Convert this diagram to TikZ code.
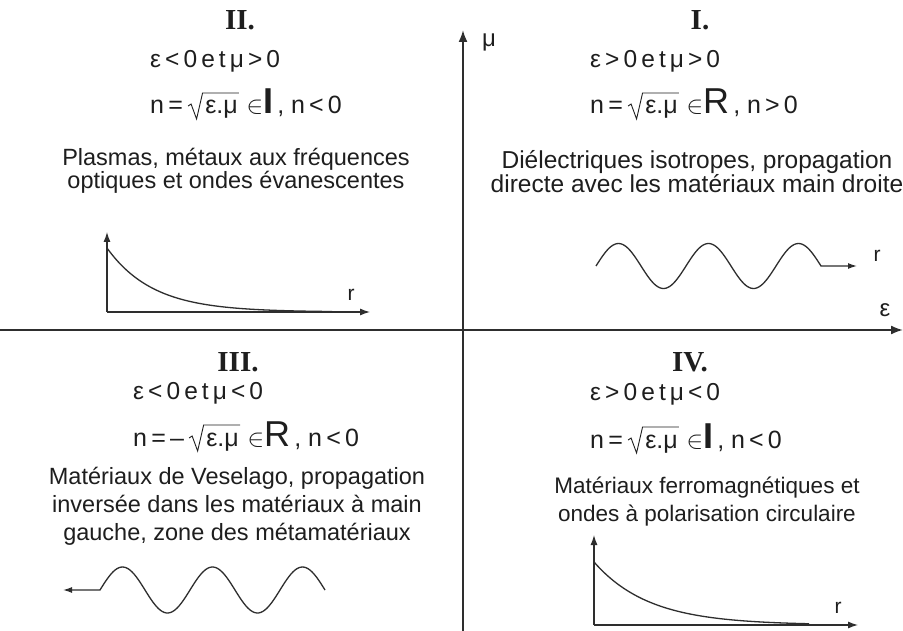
\documentclass[tikz,border=0pt]{standalone}
\usepackage{fontspec}
\setmainfont{Liberation Sans}
\newfontfamily\romfont{Liberation Serif}
\usetikzlibrary{arrows.meta}
\definecolor{ink}{HTML}{1E1E1E}
\definecolor{lin}{HTML}{2E2E2E}
\newcommand\bigI{{\fontsize{36}{36}\selectfont\bfseries I}}
\newcommand\bigR{{\fontsize{36}{36}\selectfont R}}
\newcommand\drawroot[1]{%
  \draw[rootline] ([shift={(-17,-8)}]#1.base west) -- ([shift={(-14,-10)}]#1.base west)
    -- ([shift={(-8.5,5)}]#1.base west) -- ([shift={(-2.5,-21)}]#1.base west)
    -- ([shift={(1,-21)}]#1.base east);}
\begin{document}
\begin{tikzpicture}[x=1pt,y=-1pt,
  title/.style={font=\romfont\bfseries\fontsize{29}{29}\selectfont, text=ink},
  formula/.style={anchor=west, inner sep=0pt, font=\fontsize{24.5}{26}\selectfont, text=ink},
  nline/.style={anchor=base west, inner sep=0pt, font=\fontsize{25}{25}\selectfont, text=ink},
  rootline/.style={line width=0.9pt, draw=ink, line join=miter},
  desc/.style={align=center, inner sep=0pt, text=ink},
  lbl/.style={inner sep=0pt, text=ink, font=\fontsize{24}{24}\selectfont},
  axisline/.style={line width=1.9pt, draw=lin, -{Latex[length=12pt,width=9pt]}},
  miniaxis/.style={line width=1.2pt, draw=lin, -{Latex[length=10pt,width=7pt]}},
  curve/.style={line width=1.3pt, draw=lin},
  wave/.style={line width=1.3pt, draw=lin, -{Latex[length=9pt,width=6pt]}}]
\useasboundingbox (0,0) rectangle (903,631);
\fill[white] (0,0) rectangle (903,631);

% main axes
\coordinate (hL) at (0,330);
\coordinate (hR) at (903,330);
\coordinate (vB) at (463,631);
\coordinate (vT) at (463,30);
\draw[axisline] (hL) -- (hR);
\draw[axisline] (vB) -- (vT);
\node[lbl] (mu) at (489,42) {μ};
\node[lbl] (eps) at (885,310) {ε};

% Quadrant II
\node[title] (t2) at (240,20) {II.};
\node[formula] (f2a) at (150,61) {ε\,<\,0\,e\,t\,μ\,>\,0};
\node[nline] (n2a) at (150,114) {n\,=};
\node[nline, xshift=22pt] (n2r) at (n2a.base east) {ε.μ};
\node[nline] (n2c) at (n2r.base east) {\,\,$\in$\bigI\,, n\,<\,0};
\drawroot{n2r}
\node[desc, font=\fontsize{23.5}{23}\selectfont] (d2) at (236,171) {Plasmas, métaux aux fréquences\\optiques et ondes évanescentes};
\coordinate (o2) at (107,312);
\coordinate (y2) at (107,232);
\coordinate (x2) at (370,312);
\draw[miniaxis] (o2) -- (y2);
\draw[miniaxis] (o2) -- (x2);
\draw[curve] plot[domain=0:225, samples=80] ({107+\x},{312-64*exp(-\x/46)});
\node[lbl, font=\fontsize{21}{21}\selectfont] (r2) at (351,295) {r};

% Quadrant I
\node[title] (t1) at (700,20) {I.};
\node[formula] (f1a) at (590,61) {ε\,>\,0\,e\,t\,μ\,>\,0};
\node[nline] (n1a) at (590,114) {n\,=};
\node[nline, xshift=22pt] (n1r) at (n1a.base east) {ε.μ};
\node[nline] (n1c) at (n1r.base east) {\,\,$\in$\bigR\,, n\,>\,0};
\drawroot{n1r}
\node[desc, font=\fontsize{24.5}{23}\selectfont] (d1) at (697,172) {Diélectriques isotropes, propagation\\directe avec les matériaux main droite};
\coordinate (w1end) at (857,266);
\draw[wave] plot[domain=0:225, samples=120] ({596+\x},{266-22.5*sin(\x*4)}) -- (w1end);
\node[lbl, font=\fontsize{21}{21}\selectfont] (r1) at (877,256) {r};

% Quadrant III
\node[title] (t3) at (238,362) {III.};
\node[formula] (f3a) at (133,393) {ε\,<\,0\,e\,t\,μ\,<\,0};
\node[nline] (n3a) at (133,446) {n\,=\,--};
\node[nline, xshift=22pt] (n3r) at (n3a.base east) {ε.μ};
\node[nline] (n3c) at (n3r.base east) {\,\,$\in$\bigR\,, n\,<\,0};
\drawroot{n3r}
\node[desc, font=\fontsize{23.5}{28}\selectfont] (d3) at (237,506) {Matériaux de Veselago, propagation\\inversée dans les matériaux à main\\gauche, zone des métamatériaux};
\coordinate (w3end) at (63,590);
\draw[wave] plot[domain=0:225, samples=120] ({325-\x},{590-23*sin(\x*4)}) -- (w3end);

% Quadrant IV
\node[title] (t4) at (690,362) {IV.};
\node[formula] (f4a) at (590,394) {ε\,>\,0\,e\,t\,μ\,<\,0};
\node[nline] (n4a) at (590,448) {n\,=};
\node[nline, xshift=22pt] (n4r) at (n4a.base east) {ε.μ};
\node[nline] (n4c) at (n4r.base east) {\,\,$\in$\bigI\,, n\,<\,0};
\drawroot{n4r}
\node[desc, font=\fontsize{22.5}{28}\selectfont] (d4) at (707,502) {Matériaux ferromagnétiques et\\ondes à polarisation circulaire};
\coordinate (o4) at (594,625);
\coordinate (y4) at (594,535);
\coordinate (x4) at (858,625);
\draw[miniaxis] (o4) -- (y4);
\draw[miniaxis] (o4) -- (x4);
\draw[curve] plot[domain=0:215, samples=80] ({594+\x},{625-63*exp(-\x/55)});
\node[lbl, font=\fontsize{21}{21}\selectfont] (r4) at (838,608) {r};
\end{tikzpicture}
\end{document}
